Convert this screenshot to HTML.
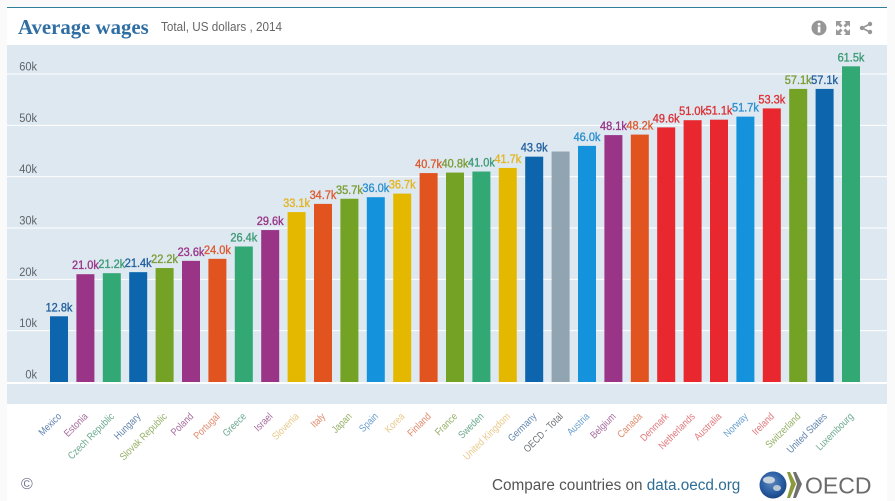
<!DOCTYPE html>
<html lang="en">
<head>
<meta charset="utf-8">
<title>Average wages</title>
<style>
html,body{margin:0;padding:0;background:#fff;}
body{width:895px;height:501px;overflow:hidden;position:relative;font-family:"Liberation Sans",sans-serif;}
svg{position:absolute;left:0;top:0;display:block;}
</style>
</head>
<body>
<svg id="chart" width="895" height="501" viewBox="0 0 895 501" xmlns="http://www.w3.org/2000/svg">
  <rect x="0" y="0" width="895" height="501" fill="#ffffff"/>
  <rect x="0" y="0" width="7" height="501" fill="#fafafa"/>
  <rect x="887" y="0" width="8" height="501" fill="#fafafa"/>
  <rect x="0" y="0" width="895" height="7" fill="#fbfafa"/>
  <rect x="7" y="7" width="880" height="1" fill="#2f7f9c"/>
  <text x="18" y="34" font-family="'Liberation Serif',serif" font-weight="bold" font-size="20.8" fill="#2f6ea3">Average wages</text>
  <text transform="translate(161,31) scale(0.93,1)" font-size="12.6" fill="#666666">Total, US dollars , 2014</text>

  <g>
    <circle cx="819" cy="28" r="7.5" fill="#969696"/>
    <rect x="817.8" y="26.5" width="2.6" height="6" fill="#ffffff"/>
    <rect x="817.8" y="23" width="2.6" height="2.4" fill="#ffffff"/>
  </g>
  <g fill="#9a9a9a">
    <polygon points="836,21 842,21 840,23 842.5,25.5 840.5,27.5 838,25 836,27"/>
    <polygon points="850,21 844,21 846,23 843.5,25.5 845.5,27.5 848,25 850,27"/>
    <polygon points="836,35 842,35 840,33 842.5,30.5 840.5,28.5 838,31 836,29"/>
    <polygon points="850,35 844,35 846,33 843.5,30.5 845.5,28.5 848,31 850,29"/>
  </g>
  <g fill="#969696" stroke="#969696">
    <line x1="862" y1="28" x2="870" y2="24" stroke-width="1.6"/>
    <line x1="862" y1="28" x2="870" y2="32" stroke-width="1.6"/>
    <circle cx="862" cy="28" r="2.2" stroke="none"/>
    <circle cx="870" cy="24" r="2.2" stroke="none"/>
    <circle cx="870" cy="32" r="2.2" stroke="none"/>
  </g>

  <rect x="7" y="45" width="880" height="359" fill="#dde8f0"/>
  <g id="grid"></g>
  <g id="yaxis"></g>
  <g id="bars"></g>
  <g id="values"></g>
  <g id="xaxis"></g>

  <text x="21" y="489" font-size="16" fill="#6f7390">©</text>
  <text x="492" y="490" font-size="15.3" fill="#555555">Compare countries on <tspan fill="#2f6c93">data.oecd.org</tspan></text>

  <g>
    <defs>
      <radialGradient id="globe" cx="0.45" cy="0.4" r="0.65">
        <stop offset="0" stop-color="#5f88bd"/>
        <stop offset="0.6" stop-color="#2a5ea3"/>
        <stop offset="1" stop-color="#173f7d"/>
      </radialGradient>
    </defs>
    <circle cx="773" cy="485" r="13.5" fill="url(#globe)"/>
    <ellipse cx="769" cy="480" rx="6" ry="3.5" fill="#c9d3de"/>
    <ellipse cx="777" cy="488" rx="4" ry="3" fill="#b9c6d4"/>
    <polygon points="787,472 790,472 796,484 790,498 787,498 791,484" fill="#8a9a3c"/>
    <polygon points="793,472 796,472 802,484 796,498 793,498 797,484" fill="#6f6f6f"/>
    <text x="805" y="493.5" font-size="23" fill="#6b6b6b">OECD</text>
  </g>
</svg>
<script>
const categories = ["Mexico","Estonia","Czech Republic","Hungary","Slovak Republic","Poland","Portugal","Greece","Israel","Slovenia","Italy","Japan","Spain","Korea","Finland","France","Sweden","United Kingdom","Germany","OECD - Total","Austria","Belgium","Canada","Denmark","Netherlands","Australia","Norway","Ireland","Switzerland","United States","Luxembourg"];
const wages = [12.8,21.0,21.2,21.4,22.2,23.6,24.0,26.4,29.6,33.1,34.7,35.7,36.0,36.7,40.7,40.8,41.0,41.7,43.9,44.9,46.0,48.1,48.2,49.6,51.0,51.1,51.7,53.3,57.1,57.1,61.5];
const valueLabels = ["12.8k","21.0k","21.2k","21.4k","22.2k","23.6k","24.0k","26.4k","29.6k","33.1k","34.7k","35.7k","36.0k","36.7k","40.7k","40.8k","41.0k","41.7k","43.9k","","46.0k","48.1k","48.2k","49.6k","51.0k","51.1k","51.7k","53.3k","57.1k","57.1k","61.5k"];
const yTicks = [0,10,20,30,40,50,60];
const yTickLabels = ["0k","10k","20k","30k","40k","50k","60k"];
const palette = {blue:"#0d66ad",purple:"#993487",green:"#32a875",olive:"#74a225",red:"#e8282e",orange:"#e2541f",yellow:"#e5b800",sky:"#1493dc",grey:"#90a4b2"};
const barColorNames = ["blue","purple","green","blue","olive","purple","orange","green","purple","yellow","orange","olive","sky","yellow","orange","olive","green","yellow","blue","grey","sky","purple","orange","red","red","red","sky","red","olive","blue","green"];
const labelPalette = {blue:"#5f83ad",purple:"#a4699b",green:"#6ba98e",olive:"#94b066",red:"#e0777a",orange:"#e0896a",yellow:"#e8c98a",sky:"#6a9fd0",grey:"#6e7479"};
const valuePalette = {blue:"#23609f",purple:"#993487",green:"#3d9a76",olive:"#7a9c35",red:"#dc3035",orange:"#dd5a30",yellow:"#e3b520",sky:"#2a8fd0",grey:"#90a4b2"};

const NS = "http://www.w3.org/2000/svg";
const yScale = function (v) { return 382 - v * 5.133; };
const xScale = function (i) { return 59 + i * 26.4; };
const BAR_W = 18;
const make = function (tag) { return document.createElementNS(NS, tag); };

yTicks.forEach(function (t, i) {
  const y = yScale(t);
  const line = make("rect");
  line.setAttribute("x", 7);
  line.setAttribute("y", y - (t === 0 ? 0 : 0.5));
  line.setAttribute("width", 880);
  line.setAttribute("height", t === 0 ? 2 : 1);
  line.setAttribute("fill", "#ffffff");
  
  
  document.getElementById("grid").appendChild(line);

  const label = make("text");
  label.setAttribute("transform", "translate(37," + (y - 3.5) + ") scale(0.92,1)");
  label.setAttribute("text-anchor", "end");
  label.setAttribute("font-size", "12");
  label.setAttribute("fill", "#5f6468");
  label.textContent = yTickLabels[i];
  
  
  document.getElementById("yaxis").appendChild(label);
});

categories.forEach(function (name, i) {
  const cx = xScale(i);
  const top = yScale(wages[i]);
  const key = barColorNames[i];

  const bar = make("rect");
  bar.setAttribute("x", cx - BAR_W / 2);
  bar.setAttribute("y", top);
  bar.setAttribute("width", BAR_W);
  bar.setAttribute("height", yScale(0) - top);
  bar.setAttribute("fill", palette[key]);
  
  
  document.getElementById("bars").appendChild(bar);

  if (valueLabels[i]) {
    const val = make("text");
    val.setAttribute("transform", "translate(" + cx + "," + (top - 5) + ") scale(0.9,1)");
    val.setAttribute("text-anchor", "middle");
    val.setAttribute("font-size", "12.2");
    val.setAttribute("fill", valuePalette[key]);
    val.setAttribute("stroke", valuePalette[key]);
    val.setAttribute("stroke-width", "0.35");
    val.textContent = valueLabels[i];
    
    
    document.getElementById("values").appendChild(val);
  }

  const tick = make("text");
  tick.setAttribute("text-anchor", "end");
  tick.setAttribute("font-size", "10.2");
  tick.setAttribute("fill", labelPalette[key]);
  tick.setAttribute("transform", "translate(" + (cx + 3) + ",417) rotate(-45) scale(0.85,1)");
  tick.textContent = name;
  
  
  document.getElementById("xaxis").appendChild(tick);
});
</script>
</body>
</html>
